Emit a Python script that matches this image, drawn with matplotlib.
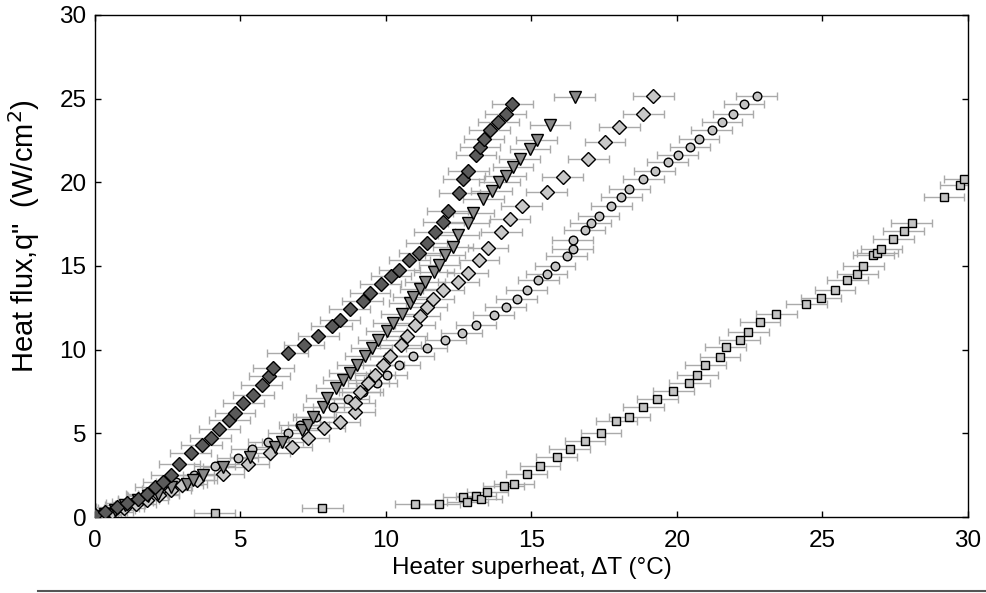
import numpy as np
import matplotlib.pyplot as plt
from matplotlib.lines import Line2D

plt.rcParams['font.family'] = ['Liberation Sans', 'DejaVu Sans']

# series: heater superheat (C) and heat flux (W/cm2)
dark_dia_x = [0.0, 0.34, 0.75, 1.09, 1.49, 1.78, 2.06, 2.35, 2.63, 2.9, 3.29, 3.67, 3.98, 4.27,
              4.62, 4.81, 5.1, 5.44, 5.73, 5.99, 6.13, 6.62, 7.18, 7.68, 8.13, 8.42, 8.76, 9.2,
              9.45, 9.82, 10.17, 10.46, 10.8, 11.15, 11.4, 11.68, 11.97, 12.12, 12.52, 12.66,
              12.83, 13.09, 13.23, 13.37, 13.57, 13.86, 14.12, 14.34]
dark_dia_y = [0.1, 0.3, 0.6, 0.85, 1.1, 1.4, 1.8, 2.1, 2.5, 3.2, 3.8, 4.3, 4.75, 5.25,
              5.8, 6.2, 6.8, 7.3, 7.9, 8.4, 8.9, 9.8, 10.3, 10.8, 11.4, 11.8, 12.4, 12.9,
              13.4, 13.9, 14.4, 14.75, 15.35, 15.8, 16.35, 17.05, 17.65, 18.3, 19.35, 20.2,
              20.7, 21.6, 22.1, 22.6, 23.1, 23.6, 24.1, 24.7]

tri_x = [0.0, 0.34, 0.69, 1.03, 1.49, 1.83, 2.18, 2.63, 3.15, 3.38, 3.72, 4.41, 5.33, 6.19,
         6.44, 7.1, 7.33, 7.5, 7.85, 7.96, 8.3, 8.53, 8.76, 9.01, 9.28, 9.51, 9.74, 10.02,
         10.25, 10.54, 10.82, 10.94, 11.17, 11.34, 11.65, 11.83, 12.03, 12.3, 12.49, 12.83,
         13.0, 13.35, 13.63, 13.89, 14.12, 14.37, 14.6, 14.95, 15.18, 15.64, 16.49]
tri_y = [0.02, 0.2, 0.4, 0.7, 1.0, 1.25, 1.4, 1.8, 2.0, 2.2, 2.5, 3.0, 3.6, 4.2,
         4.5, 5.2, 5.5, 6.0, 6.6, 7.1, 7.7, 8.2, 8.6, 9.1, 9.6, 10.1, 10.6, 11.1,
         11.6, 12.15, 12.8, 13.15, 13.65, 14.05, 14.65, 15.05, 15.65, 16.15, 16.85, 17.55,
         18.15, 19.0, 19.5, 20.0, 20.4, 20.9, 21.4, 22.0, 22.5, 23.4, 25.1]

light_dia_x = [0.2, 0.6, 1.0, 1.4, 1.8, 2.2, 2.6, 3.0, 3.5, 4.41, 5.27, 6.01, 6.76, 7.33,
               7.88, 8.42, 8.93, 8.93, 9.1, 9.39, 9.62, 9.91, 10.14, 10.5, 10.71, 11.0, 11.17,
               11.4, 11.63, 11.97, 12.49, 12.81, 13.2, 13.51, 13.97, 14.26, 14.67, 15.52,
               16.07, 16.96, 17.53, 18.02, 18.84, 19.19]
light_dia_y = [0.1, 0.3, 0.55, 0.8, 1.0, 1.3, 1.6, 1.9, 2.2, 2.6, 3.2, 3.8, 4.2, 4.7,
               5.35, 5.7, 6.3, 6.8, 7.5, 8.0, 8.5, 9.1, 9.6, 10.3, 10.8, 11.45, 12.0,
               12.55, 13.05, 13.55, 14.05, 14.55, 15.35, 16.1, 17.05, 17.8, 18.6, 19.4,
               20.3, 21.4, 22.4, 23.3, 24.1, 25.15]

circ_x = [0.1, 0.4, 0.8, 1.3, 1.8, 2.3, 2.8, 3.4, 4.12, 4.9, 5.38, 5.96, 6.64, 7.04, 7.6,
          8.19, 8.71, 9.2, 9.68, 10.02, 10.46, 10.94, 11.4, 12.04, 12.6, 13.09, 13.7, 14.12,
          14.49, 14.84, 15.24, 15.52, 15.81, 16.21, 16.42, 16.42, 16.83, 17.04, 17.31, 17.74,
          18.09, 18.36, 18.84, 19.24, 19.68, 20.02, 20.45, 20.76, 21.19, 21.55, 21.93, 22.3,
          22.74]
circ_y = [0.1, 0.3, 0.55, 0.9, 1.3, 1.7, 2.1, 2.5, 3.05, 3.55, 4.05, 4.5, 5.0, 5.5, 6.0,
          6.55, 7.05, 7.5, 8.0, 8.5, 9.1, 9.6, 10.1, 10.6, 11.0, 11.5, 12.1, 12.55,
          13.05, 13.55, 14.15, 14.5, 15.0, 15.6, 16.0, 16.55, 17.15, 17.55, 18.0, 18.6,
          19.1, 19.6, 20.2, 20.7, 21.2, 21.6, 22.1, 22.6, 23.1, 23.6, 24.1, 24.7,
          25.15]

sq_x = [4.12, 7.81, 11.0, 11.83, 12.66, 12.8, 13.09, 13.28, 13.48, 14.05, 14.4, 14.83, 15.29,
        15.87, 16.32, 16.84, 17.39, 17.92, 18.36, 18.84, 19.33, 19.87, 20.42, 20.7, 20.98,
        21.48, 21.68, 22.16, 22.45, 22.85, 23.42, 24.45, 24.95, 25.43, 25.86, 26.2, 26.4,
        26.75, 26.88, 27.02, 27.43, 27.79, 28.06, 29.18, 29.73, 29.86]
sq_y = [0.26, 0.56, 0.78, 0.78, 1.18, 0.92, 1.27, 1.06, 1.51, 1.85, 1.97, 2.57, 3.07,
        3.57, 4.05, 4.54, 5.04, 5.74, 5.96, 6.55, 7.05, 7.53, 8.03, 8.5, 9.09,
        9.58, 10.18, 10.58, 11.04, 11.64, 12.11, 12.71, 13.07, 13.57, 14.17, 14.52, 15.02,
        15.66, 15.76, 16.0, 16.6, 17.1, 17.55, 19.1, 19.84, 20.2]

x_err = 0.7

series = [
    (sq_x, sq_y, 's', 6.0, '#c4c4c4'),
    (circ_x, circ_y, 'o', 6.2, '#c4c4c4'),
    (light_dia_x, light_dia_y, 'D', 7.2, '#c8c8c8'),
    (tri_x, tri_y, 'v', 8.6, '#888888'),
    (dark_dia_x, dark_dia_y, 'D', 7.2, '#5a5a5a'),
]

fig, ax = plt.subplots(figsize=(9.86, 5.93), dpi=100)
fig.subplots_adjust(left=0.0963, right=0.9817, bottom=0.128, top=0.975)

# error bars first, markers on top
for xs, ys, mk, ms, fc in series:
    ax.errorbar(xs, ys, xerr=x_err, fmt='none', ecolor='#aaaaaa', elinewidth=1,
                capsize=3, capthick=1, zorder=1)
for xs, ys, mk, ms, fc in series:
    ax.plot(xs, ys, linestyle='none', marker=mk, markersize=ms, markerfacecolor=fc,
            markeredgecolor='black', markeredgewidth=1.0, zorder=3)

ax.set_xlim(0, 30)
ax.set_ylim(0, 30)
ax.set_xticks(np.arange(0, 31, 5))
ax.set_yticks(np.arange(0, 31, 5))
ax.tick_params(direction='in', length=4, width=1, top=True, right=True,
               labelsize=17.5)
ax.tick_params(axis='x', pad=9)
ax.tick_params(axis='y', pad=6)
for sp in ax.spines.values():
    sp.set_linewidth(1)

ax.set_xlabel('Heater superheat, \u0394T (\u00b0C)', fontsize=17.5, labelpad=4)
ax.set_ylabel('Heat flux,q"  (W/cm$^2$)', fontsize=21)
ax.yaxis.set_label_coords(-0.061, 0.56)

fig.add_artist(Line2D([38 / 986, 1.0], [2 / 593, 2 / 593], color='#555555', linewidth=1.5))

fig.savefig('out.png', dpi=100)
